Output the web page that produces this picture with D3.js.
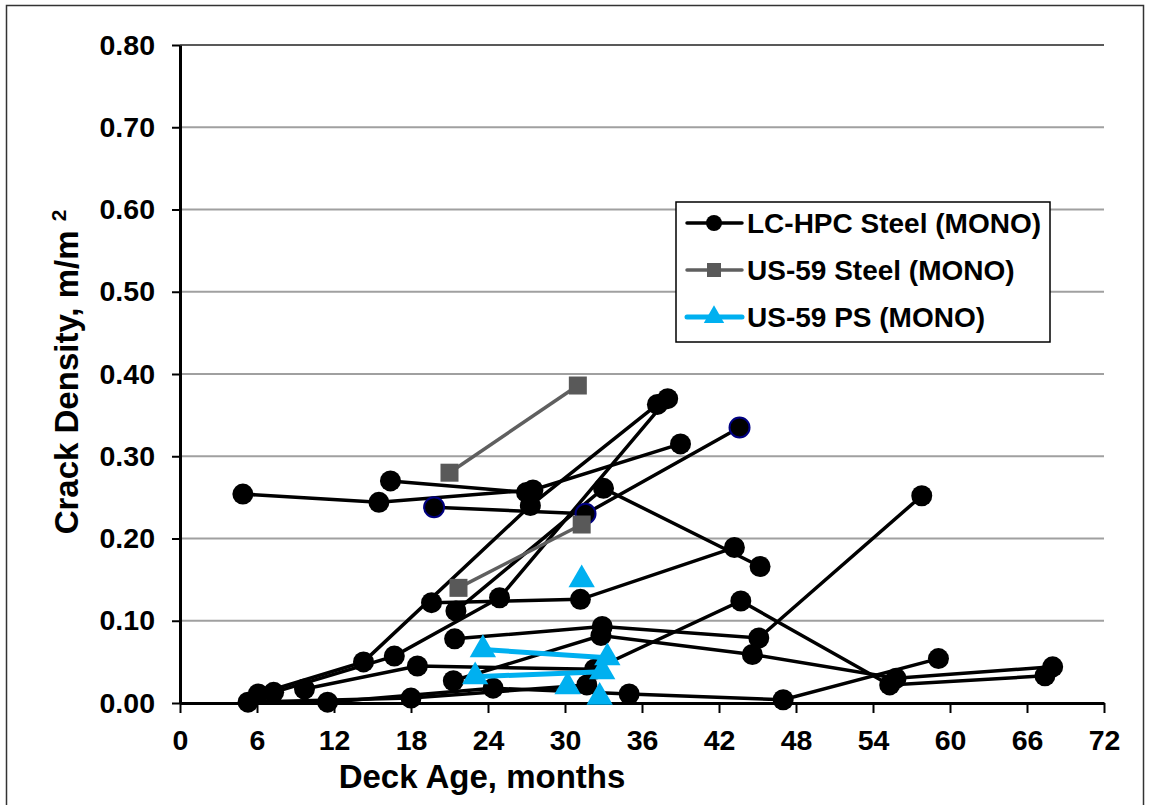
<!DOCTYPE html>
<html>
<head>
<meta charset="utf-8">
<script src="https://cdn.jsdelivr.net/npm/d3@7"></script>
<style>
  body { margin: 0; background: #fff; }
  svg text { font-family: "Liberation Sans", Arial, sans-serif; font-weight: bold; }
</style>
</head>
<body>
<svg id="chart"></svg>
<script>
const width = 1150, height = 805;

// LC-HPC Steel (MONO) decks, [age in months, crack density m/m2]
const lcA = [[4.9, 0.254], [15.5, 0.244], [27.5, 0.259], [39.0, 0.315]];
const lcB = [[16.4, 0.270], [27.0, 0.256]];
const lcC = [[6.1, 0.011], [14.3, 0.050], [27.3, 0.240], [37.2, 0.363]];
const lcD = [[7.3, 0.013], [16.7, 0.057], [24.9, 0.128], [38.0, 0.370]];
const lcE = [[19.6, 0.122], [31.2, 0.126], [43.2, 0.189]];
const lcF = [[19.8, 0.238], [31.6, 0.230], [43.6, 0.335]];   // navy outlined
const lcG = [[21.4, 0.078], [32.9, 0.093], [45.1, 0.079], [57.8, 0.252]];
const lcH = [[9.7, 0.017], [18.5, 0.045], [32.3, 0.041], [43.7, 0.124], [55.3, 0.022], [67.4, 0.033]];
const lcI = [[21.3, 0.027], [32.8, 0.082], [44.6, 0.059], [55.8, 0.030], [68.0, 0.044]];
const lcJ = [[11.5, 0.001], [24.4, 0.018], [35.0, 0.011], [47.0, 0.004], [59.1, 0.054]];
const lcK = [[5.3, 0.001], [18.0, 0.006], [31.7, 0.022]];
const lcL = [[21.5, 0.112], [33.0, 0.261], [45.2, 0.166]];

// US-59 Steel (MONO)
const usSteel1 = [[21.0, 0.280], [31.0, 0.386]];
const usSteel2 = [[21.7, 0.140], [31.3, 0.217]];

// US-59 PS (MONO)
const usPs1 = [[23.6, 0.065], [33.3, 0.055]];
const usPs2 = [[23.0, 0.032], [32.9, 0.038]];
const usPs3 = [[31.3, 0.150]];
const usPs4 = [[30.2, 0.020]];
const usPs5 = [[32.7, 0.007]];

const xTicks = d3.range(0, 73, 6);
const yTicks = d3.range(0, 0.81, 0.1);
const legendNames = ["LC-HPC Steel (MONO)", "US-59 Steel (MONO)", "US-59 PS (MONO)"];

const lcDecks = [lcA, lcB, lcC, lcD, lcE, lcG, lcH, lcI, lcJ, lcK, lcL];
const steelDecks = [usSteel1, usSteel2];
const psDecks = [usPs1, usPs2, usPs3, usPs4, usPs5];

const svg = d3.select("#chart")
  .attr("width", width)
  .attr("height", height);

// outer frame
svg.append("rect")
  .attr("x", 6.5).attr("y", 5.5)
  .attr("width", 1137).attr("height", 820)
  .attr("fill", "none")
  .attr("stroke", "#333")
  .attr("stroke-width", 1.5);

const x = d3.scaleLinear().domain([0, 72]).range([180, 1104]);
const y = d3.scaleLinear().domain([0, 0.8]).range([703, 45]);

// gridlines
svg.append("g")
  .selectAll("line")
  .data(yTicks.slice(1))
  .enter().append("line")
  .attr("x1", x(0)).attr("x2", x(72))
  .attr("y1", d => y(d)).attr("y2", d => y(d))
  .attr("stroke", (d, i) => i === yTicks.length - 2 ? "#222" : "#a0a0a0")
  .attr("stroke-width", (d, i) => i === yTicks.length - 2 ? 1.5 : 2);

// axes
const xAxis = svg.append("g")
  .attr("transform", `translate(0,${y(0)})`)
  .call(d3.axisBottom(x).tickValues(xTicks).tickSize(10).tickSizeOuter(0).tickPadding(17));
const yAxis = svg.append("g")
  .attr("transform", `translate(${x(0)},0)`)
  .call(d3.axisLeft(y).tickValues(yTicks).tickSize(8).tickSizeOuter(0).tickPadding(17).tickFormat(d3.format(".2f")));

[xAxis, yAxis].forEach(g => {
  g.select(".domain").attr("stroke", "#000").attr("stroke-width", 3);
  g.selectAll(".tick line").attr("stroke", "#000").attr("stroke-width", 2);
  g.selectAll(".tick text").attr("fill", "#000").style("font-size", "28.5px");
});

// axis titles
svg.append("text")
  .attr("x", 482).attr("y", 788)
  .attr("text-anchor", "middle")
  .style("font-size", "33px")
  .text("Deck Age, months");

const yTitle = svg.append("text")
  .attr("transform", "translate(78,372) rotate(-90)")
  .attr("text-anchor", "middle")
  .style("font-size", "33px");
yTitle.append("tspan").text("Crack Density, m/m ");
yTitle.append("tspan").attr("dy", -12).style("font-size", "21px").text("2");

const line = d3.line().x(d => x(d[0])).y(d => y(d[1]));
const tri = d3.symbol(d3.symbolTriangle, 300);

// LC-HPC Steel
const lcGroup = svg.append("g");
lcDecks.concat([lcF]).forEach(deck => {
  lcGroup.append("path")
    .datum(deck)
    .attr("fill", "none")
    .attr("stroke", "#000")
    .attr("stroke-width", 3.5)
    .attr("d", line);
});
lcDecks.forEach(deck => {
  lcGroup.selectAll(null)
    .data(deck)
    .enter().append("circle")
    .attr("cx", d => x(d[0])).attr("cy", d => y(d[1]))
    .attr("r", 10.5)
    .attr("fill", "#000");
});
lcGroup.selectAll(null)
  .data(lcF)
  .enter().append("circle")
  .attr("cx", d => x(d[0])).attr("cy", d => y(d[1]))
  .attr("r", 10)
  .attr("fill", "#000")
  .attr("stroke", "#000080")
  .attr("stroke-width", 2);

// US-59 Steel
steelDecks.forEach(deck => {
  svg.append("path")
    .datum(deck)
    .attr("fill", "none")
    .attr("stroke", "#5f5f5f")
    .attr("stroke-width", 3.5)
    .attr("d", line);
  svg.selectAll(null)
    .data(deck)
    .enter().append("rect")
    .attr("x", d => x(d[0]) - 9).attr("y", d => y(d[1]) - 9)
    .attr("width", 18).attr("height", 18)
    .attr("fill", "#595959");
});

// US-59 PS
psDecks.forEach(deck => {
  svg.append("path")
    .datum(deck)
    .attr("fill", "none")
    .attr("stroke", "#00b0f0")
    .attr("stroke-width", 5)
    .attr("d", line);
  svg.selectAll(null)
    .data(deck)
    .enter().append("path")
    .attr("transform", d => `translate(${x(d[0])},${y(d[1])})`)
    .attr("d", tri)
    .attr("fill", "#00b0f0");
});

// legend
const legend = svg.append("g").attr("transform", "translate(676,202)");
legend.append("rect")
  .attr("width", 374).attr("height", 140)
  .attr("fill", "#fff")
  .attr("stroke", "#000")
  .attr("stroke-width", 1.5);

const legendStyle = [
  { color: "#000", width: 3.5, marker: "circle" },
  { color: "#5f5f5f", width: 3.5, marker: "square" },
  { color: "#00b0f0", width: 5, marker: "triangle" }
];

legendNames.forEach((name, i) => {
  const row = legend.append("g").attr("transform", `translate(0,${21 + i * 47})`);
  const s = legendStyle[i];
  row.append("line")
    .attr("x1", 11).attr("x2", 66)
    .attr("stroke", s.color)
    .attr("stroke-width", s.width)
    .attr("stroke-linecap", "round");
  if (s.marker === "circle") {
    row.append("circle").attr("cx", 38).attr("r", 8).attr("fill", s.color);
  } else if (s.marker === "square") {
    row.append("rect").attr("x", 31).attr("y", -7).attr("width", 14).attr("height", 14).attr("fill", "#595959");
  } else {
    row.append("path").attr("transform", "translate(38,0)").attr("d", d3.symbol(d3.symbolTriangle, 180)).attr("fill", s.color);
  }
  row.append("text")
    .attr("x", 71).attr("y", 10)
    .style("font-size", "28px")
    .text(name);
});
</script>
</body>
</html>
